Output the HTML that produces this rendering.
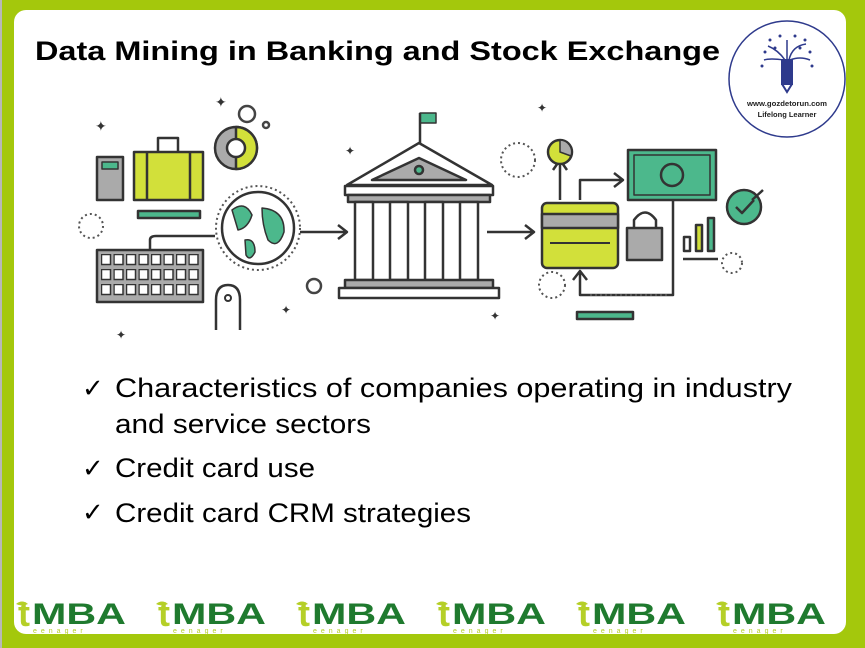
<!DOCTYPE html>
<html><head><meta charset="utf-8"><style>
html,body{margin:0;padding:0;background:#fff}
svg{display:block}
text{font-family:"Liberation Sans",sans-serif}
</style></head><body>
<svg width="865" height="648" viewBox="0 0 865 648" xmlns="http://www.w3.org/2000/svg">
<defs><pattern id="keys" x="101" y="254" width="12.5" height="15" patternUnits="userSpaceOnUse"><rect x="0.5" y="0.5" width="9" height="10" fill="#fff" stroke="#333" stroke-width="1.5"/></pattern></defs>
<rect x="0" y="0" width="865" height="648" fill="#a4c80c"/>
<rect x="0" y="0" width="2" height="648" fill="#b8b8b8"/>
<rect x="14" y="10" width="832" height="624" rx="12" fill="#fff"/>

<text x="35" y="60" font-size="27" font-weight="bold" textLength="685" lengthAdjust="spacingAndGlyphs" fill="#000">Data Mining in Banking and Stock Exchange</text>

<!-- logo -->
<circle cx="787" cy="79" r="58" fill="#fff" stroke="#2e3a8c" stroke-width="1.5"/>
<g stroke="#2e3a8c" stroke-width="2" fill="none">
<rect x="782" y="60" width="10" height="24" fill="#2e3a8c"/>
<path d="M782 84 L787 92 L792 84"/>
<path d="M785 60 Q778 50 768 46 M789 60 Q792 46 806 44 M787 60 L787 40 M784 60 Q770 58 764 60 M790 60 Q800 56 810 60" stroke-width="1.5"/>
</g>
<g fill="#2e3a8c"><circle cx="770" cy="40" r="1.5"/><circle cx="780" cy="36" r="1.5"/><circle cx="795" cy="36" r="1.5"/><circle cx="805" cy="40" r="1.5"/><circle cx="765" cy="52" r="1.5"/><circle cx="810" cy="52" r="1.5"/><circle cx="762" cy="66" r="1.5"/><circle cx="812" cy="66" r="1.5"/><circle cx="775" cy="48" r="1.5"/><circle cx="800" cy="48" r="1.5"/></g>
<text x="787" y="106" font-size="7.5" font-weight="bold" text-anchor="middle" fill="#222" textLength="80" lengthAdjust="spacingAndGlyphs">www.gozdetorun.com</text>
<text x="787" y="117" font-size="7.5" font-weight="bold" text-anchor="middle" fill="#222">Lifelong Learner</text>

<!-- illustration -->
<g stroke="#333" stroke-width="2.5" stroke-linejoin="round">
<rect x="97" y="157" width="26" height="43" fill="#aaa"/>
<rect x="102" y="162" width="16" height="7" fill="#4cb88c" stroke-width="1.5"/>
<rect x="158" y="138" width="20" height="15" fill="#fff"/>
<rect x="134" y="152" width="69" height="48" fill="#d2e03a"/>
<line x1="147" y1="152" x2="147" y2="200"/><line x1="190" y1="152" x2="190" y2="200"/>
<rect x="138" y="211" width="62" height="7" fill="#4cb88c"/>
<rect x="97" y="250" width="106" height="52" fill="#aaa"/>
<rect x="99" y="253" width="102" height="46" fill="url(#keys)" stroke="none"/>
<path d="M150 250 V240 Q150 236 156 236 H215" fill="none"/>
<circle cx="236" cy="148" r="21" fill="#aaa"/>
<path d="M236 127 A21 21 0 0 1 236 169 Z" fill="#d2e03a"/>
<circle cx="236" cy="148" r="9" fill="#fff"/>
<circle cx="258" cy="228" r="36" fill="#fff"/>
<path d="M232 210 Q245 200 252 215 Q248 228 238 230 Z M262 208 Q285 210 284 232 Q278 250 268 240 Q262 225 262 208 Z M245 240 Q255 238 255 252 Q250 262 246 255 Z" fill="#4cb88c" stroke-width="1.5"/>
<path d="M300 232 H346 M338 225 L347 232 L338 239" fill="none"/>
<path d="M487 232 H533 M525 225 L534 232 L525 239" fill="none"/>
<rect x="420" y="113" width="16" height="10" fill="#4cb88c" stroke-width="1.5"/>
<line x1="420" y1="113" x2="420" y2="144"/>
<path d="M347 185 L419 143 L492 185 Z" fill="#fff"/>
<path d="M372 180 L419 158 L466 180 Z" fill="#aaa"/>
<circle cx="419" cy="170" r="4" fill="#4cb88c"/>
<rect x="345" y="186" width="148" height="9" fill="#fff"/>
<rect x="348" y="195" width="142" height="7" fill="#aaa"/>
<rect x="355" y="202" width="18" height="78" fill="#fff"/>
<rect x="390" y="202" width="18" height="78" fill="#fff"/>
<rect x="425" y="202" width="18" height="78" fill="#fff"/>
<rect x="460" y="202" width="18" height="78" fill="#fff"/>
<rect x="345" y="280" width="148" height="8" fill="#aaa"/>
<rect x="339" y="288" width="160" height="10" fill="#fff"/>
<rect x="542" y="203" width="76" height="65" rx="5" fill="#d2e03a"/>
<rect x="542" y="214" width="76" height="14" fill="#aaa"/>
<path d="M550 243 H610" stroke-width="2"/>
<path d="M560 160 V200 M553 170 L560 160 L567 170 M580 200 V180 H622 M614 173 L623 180 L614 187" fill="none"/>
<circle cx="560" cy="152" r="12" fill="#d2e03a"/>
<path d="M560 140 A12 12 0 0 1 571 156 L560 152 Z" fill="#aaa" stroke-width="1.5"/>
<rect x="628" y="150" width="88" height="50" fill="#4cb88c"/>
<rect x="634" y="155" width="76" height="40" fill="none" stroke-width="1.5"/>
<circle cx="672" cy="175" r="11" fill="none"/>
<path d="M673 200 V295 H580 V272 M573 280 L580 271 L587 280" fill="none"/>
<path d="M634 228 V220 Q645 205 656 220 V228" fill="none"/>
<rect x="627" y="228" width="35" height="32" fill="#aaa"/>
<rect x="684" y="237" width="6" height="14" fill="#fff"/>
<rect x="696" y="225" width="6" height="26" fill="#d2e03a"/>
<rect x="708" y="218" width="6" height="33" fill="#4cb88c"/>
<line x1="683" y1="259" x2="718" y2="259"/>
<circle cx="744" cy="207" r="17" fill="#4cb88c"/>
<path d="M736 207 L742 213 L754 200 M752 200 L763 190" fill="none"/>
<path d="M216 330 V300 Q216 285 228 285 Q240 285 240 300 V330" fill="#fff"/>
<circle cx="228" cy="298" r="3" fill="none" stroke-width="2"/>
<rect x="577" y="312" width="56" height="7" fill="#4cb88c"/>
</g>
<g fill="none" stroke="#555" stroke-width="2" stroke-dasharray="2 3">
<circle cx="91" cy="226" r="12"/><circle cx="518" cy="160" r="17"/><circle cx="552" cy="285" r="13"/><circle cx="258" cy="228" r="42"/><circle cx="732" cy="263" r="10"/>
<path d="M590 295 H670"/>
</g>
<g fill="#333"><text x="95" y="131" font-size="14">✦</text><text x="215" y="107" font-size="14">✦</text><text x="345" y="155" font-size="12">✦</text><text x="537" y="112" font-size="12">✦</text><text x="490" y="320" font-size="12">✦</text><text x="116" y="339" font-size="12">✦</text><text x="281" y="314" font-size="12">✦</text></g>
<g fill="none" stroke="#444" stroke-width="2.5"><circle cx="247" cy="114" r="8"/><circle cx="266" cy="125" r="3"/><circle cx="314" cy="286" r="7"/></g>

<!-- bullets -->
<g font-size="27" fill="#000">
<text x="82" y="397" font-size="26" font-family="DejaVu Sans">✓</text>
<text x="115" y="397" textLength="677" lengthAdjust="spacingAndGlyphs">Characteristics of companies operating in industry</text>
<text x="115" y="433" textLength="256" lengthAdjust="spacingAndGlyphs">and service sectors</text>
<text x="82" y="477" font-size="26" font-family="DejaVu Sans">✓</text>
<text x="115" y="477" textLength="200" lengthAdjust="spacingAndGlyphs">Credit card use</text>
<text x="82" y="521" font-size="26" font-family="DejaVu Sans">✓</text>
<text x="115" y="522" textLength="356" lengthAdjust="spacingAndGlyphs">Credit card CRM strategies</text>
</g>

<!-- footer logos -->
<g id="lg">
<path d="M16 604 Q22 599 28 604 Q22 607 16 604 Z" fill="#b5cf27"/>
<text x="18" y="626" font-size="36" font-weight="bold" fill="#b5cf27">t</text>
<text x="32" y="624" font-size="30" font-weight="bold" fill="#1f7a2e" textLength="94" lengthAdjust="spacingAndGlyphs">MBA</text>
<text x="33" y="633" font-size="7" fill="#b5cf27" letter-spacing="4">eenager</text>
</g>
<use href="#lg" x="140"/><use href="#lg" x="280"/><use href="#lg" x="420"/><use href="#lg" x="560"/><use href="#lg" x="700"/>
</svg>
</body></html>
